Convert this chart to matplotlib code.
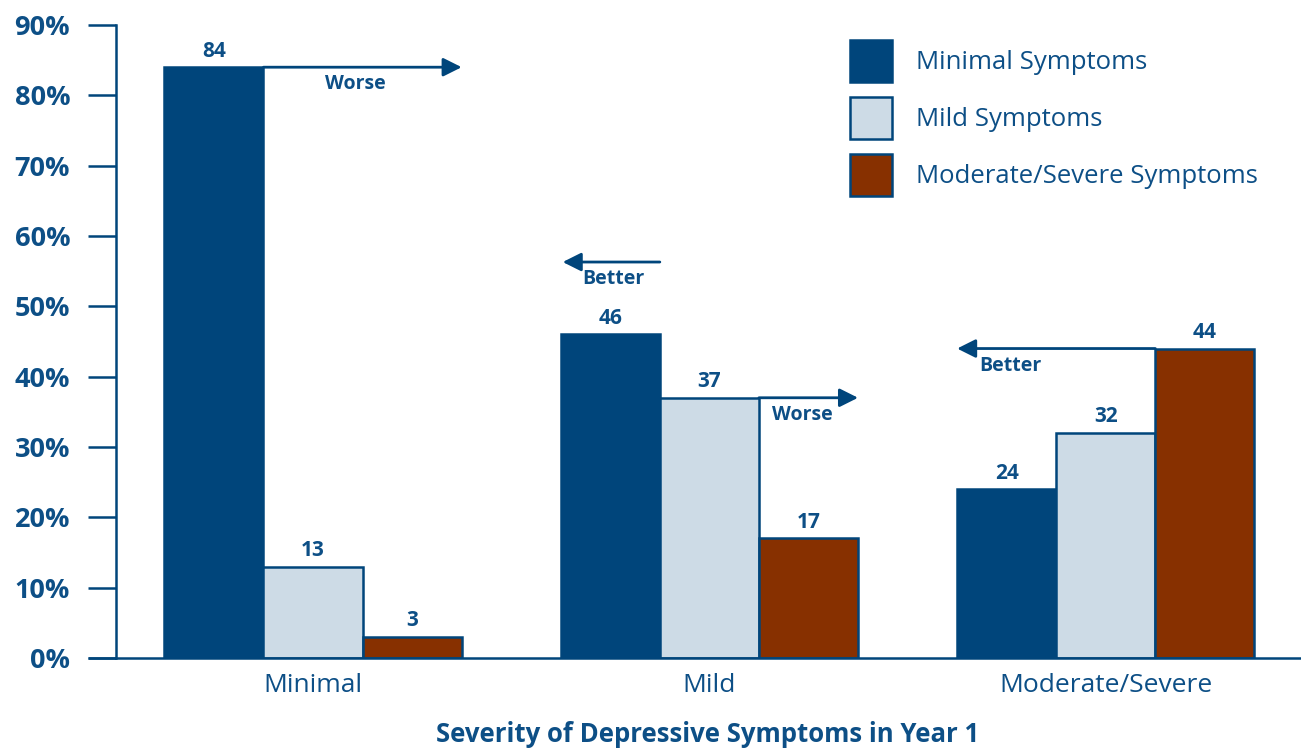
import matplotlib.pyplot as plt
import numpy as np

groups = ['Minimal', 'Mild', 'Moderate/Severe']
series = ['Minimal Symptoms', 'Mild Symptoms', 'Moderate/Severe Symptoms']
values = [
    [84, 46, 24],   # Minimal Symptoms
    [13, 37, 32],   # Mild Symptoms
    [3, 17, 44],    # Moderate/Severe Symptoms
]
yticks = [0, 10, 20, 30, 40, 50, 60, 70, 80, 90]

navy = '#00457b'
text_c = '#0d4f86'
colors = [navy, '#cddbe6', '#873000']

plt.rcParams['font.family'] = ['Open Sans', 'DejaVu Sans']

fig = plt.figure(figsize=(13.01, 7.49), dpi=100)
ax = fig.add_axes([116 / 1301, 91 / 749, 1184 / 1301, 633 / 749])

x = np.arange(len(groups))
w = 0.25
for i, (name, vals) in enumerate(zip(series, values)):
    xs = x + (i - 1) * w
    ax.bar(xs, vals, width=w, color=colors[i], edgecolor=navy,
           linewidth=1.8, label=name, zorder=2)
    for xi, v in zip(xs, vals):
        ax.annotate(str(v), (xi, v), xytext=(0, 4), textcoords='offset points',
                    ha='center', va='bottom', fontsize=15, fontweight='bold',
                    color=text_c)

# "Worse"/"Better" arrows
arr = dict(arrowstyle='-|>', color=navy, lw=2, mutation_scale=28,
           shrinkA=0, shrinkB=0)
ax.annotate('', xy=(x[0] + 1.5 * w, values[0][0]), xytext=(x[0] - 0.5 * w, values[0][0]),
            arrowprops=arr)
ax.text(0.106, 81.6, 'Worse', ha='center', va='center', fontsize=14,
        fontweight='bold', color=text_c)
ax.annotate('', xy=(x[1] - 1.48 * w, 56.3), xytext=(x[1] - 0.5 * w, 56.3),
            arrowprops=arr)
ax.text(0.758, 53.9, 'Better', ha='center', va='center', fontsize=14,
        fontweight='bold', color=text_c)
ax.annotate('', xy=(x[1] + 1.5 * w, values[1][1]), xytext=(x[1] + 0.5 * w, values[1][1]),
            arrowprops=arr)
ax.text(1.235, 34.5, 'Worse', ha='center', va='center', fontsize=14,
        fontweight='bold', color=text_c)
ax.annotate('', xy=(x[2] - 1.5 * w, values[2][2]), xytext=(x[2] + 0.5 * w, values[2][2]),
            arrowprops=arr)
ax.text(1.76, 41.5, 'Better', ha='center', va='center', fontsize=14,
        fontweight='bold', color=text_c)

ax.set_xlim(-0.497, 2.49)
ax.set_ylim(0, 90)
ax.set_yticks(yticks)
ax.set_yticklabels([f'{t}%' for t in yticks], fontsize=19.5, fontweight='bold',
                   color=text_c)
ax.tick_params(axis='y', length=20, width=1.8, color=navy, pad=13)
ax.set_xticks(x)
ax.set_xticklabels(groups, fontsize=19, color=text_c)
ax.tick_params(axis='x', length=0, pad=11)
ax.set_xlabel('Severity of Depressive Symptoms in Year 1', fontsize=18.5,
              fontweight='bold', color=text_c, labelpad=16)

for s in ['top', 'right']:
    ax.spines[s].set_visible(False)
for s in ['left', 'bottom']:
    ax.spines[s].set_color(navy)
    ax.spines[s].set_linewidth(1.8)
ax.plot([-28 / 1184, 0], [0, 0], transform=ax.transAxes, color=navy,
        lw=1.8, clip_on=False, solid_capstyle='butt')

ax.legend(loc='upper left', bbox_to_anchor=(850 / 1301, 1 - 40 / 749),
          bbox_transform=fig.transFigure, frameon=False, fontsize=18.5,
          handlelength=1.63, handleheight=2.14, handletextpad=0.95,
          labelspacing=0.58, borderpad=0, borderaxespad=0, labelcolor=text_c)

fig.savefig('out.png', dpi=100)
